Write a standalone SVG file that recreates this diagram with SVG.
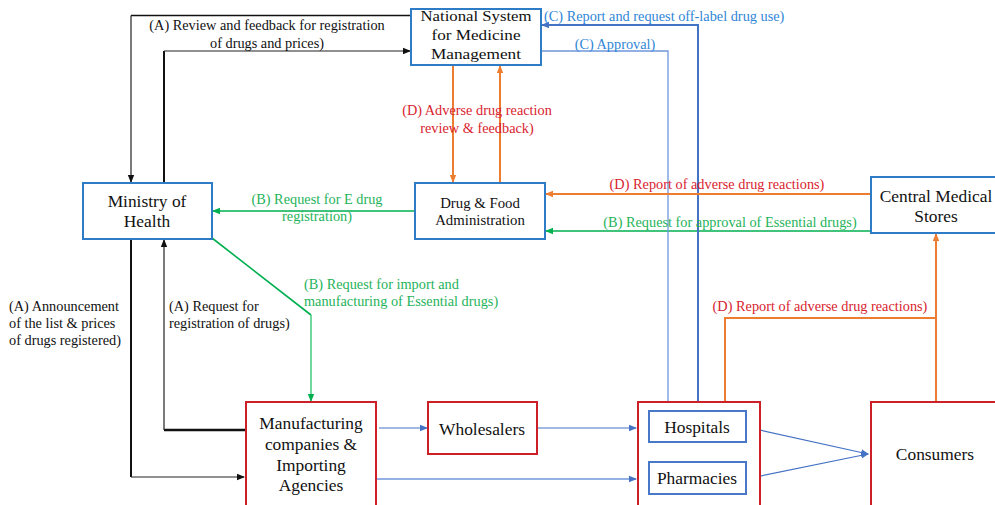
<svg xmlns="http://www.w3.org/2000/svg" width="995" height="505" viewBox="0 0 995 505">
  <style>
    .box-blue { fill: #ffffff; stroke: #2e7bc6; stroke-width: 2; }
    .box-red { fill: #ffffff; stroke: #cc1f27; stroke-width: 2; }
    .box-inner { fill: #ffffff; stroke: #4a78c8; stroke-width: 2; }
    text { font-family: 'Liberation Serif', 'Times New Roman', serif; }
    .node-text { font-size: 17.4px; fill: #111111; text-anchor: middle; }
    .tight { font-size: 15.5px; }
    .small-node { font-size: 14.8px; }
    .lbl { font-size: 14.3px; }
    .lbl-a { fill: #111111; }
    .lbl-b { fill: #1fb35a; }
    .lbl-c { fill: #2f86d6; }
    .lbl-d { fill: #d9232e; }
    .ln-a { fill: none; stroke: #222222; stroke-width: 1.2; }
    .ln-a2 { fill: none; stroke: #111111; stroke-width: 2; }
    .ln-b { fill: none; stroke: #00b050; stroke-width: 1.6; }
    .ln-b2 { fill: none; stroke: #4fcf85; stroke-width: 1.6; }
    .ln-c { fill: none; stroke: #4472c4; stroke-width: 1.2; }
    .ln-c1 { fill: none; stroke: #6f97dc; stroke-width: 1.3; }
    .ln-c2 { fill: none; stroke: #4472c4; stroke-width: 2; }
    .ln-d { fill: none; stroke: #ed7d31; stroke-width: 2; }
  </style>
  <defs>
    <marker id="ah-black" markerWidth="8" markerHeight="8" refX="7" refY="4" orient="auto" markerUnits="userSpaceOnUse">
      <path d="M0,0.8 L8,4 L0,7.2 Z" fill="#111111"/>
    </marker>
    <marker id="ah-green" markerWidth="8" markerHeight="8" refX="7" refY="4" orient="auto" markerUnits="userSpaceOnUse">
      <path d="M0,0.8 L8,4 L0,7.2 Z" fill="#00b050"/>
    </marker>
    <marker id="ah-blue" markerWidth="8" markerHeight="8" refX="7" refY="4" orient="auto" markerUnits="userSpaceOnUse">
      <path d="M0,0.8 L8,4 L0,7.2 Z" fill="#4472c4"/>
    </marker>
    <marker id="ah-orange" markerWidth="8" markerHeight="8" refX="7" refY="4" orient="auto" markerUnits="userSpaceOnUse">
      <path d="M0,0.8 L8,4 L0,7.2 Z" fill="#ed7d31"/>
    </marker>
  </defs>
  <rect width="995" height="505" fill="#ffffff"/>

  <!-- Connectors -->
  <g id="connectors">
    <!-- (A) flows -->
    <path class="ln-a2" d="M411,15.5 H131" style="stroke-width:1.6"/>
    <path class="ln-a" d="M131,15.5 V182" marker-end="url(#ah-black)"/>
    <path class="ln-a2" d="M164,183 V51"/>
    <path class="ln-a" d="M164,51 H410" marker-end="url(#ah-black)"/>
    <path class="ln-a2" d="M131,240 V477"/>
    <path class="ln-a" d="M131,477 H244" marker-end="url(#ah-black)"/>
    <path class="ln-a2" d="M245,430 H164" style="stroke-width:2.4"/>
    <path class="ln-a" d="M164,430 V240" marker-end="url(#ah-black)"/>

    <!-- (B) flows -->
    <path class="ln-b" d="M415,211 H213" marker-end="url(#ah-green)"/>
    <path class="ln-b" d="M871,231 H546" marker-end="url(#ah-green)"/>
    <path class="ln-b" d="M212,238 L311,315"/>
    <path class="ln-b2" d="M311,315 V401" marker-end="url(#ah-green)"/>

    <!-- (C) flows -->
    <path class="ln-c2" d="M698,402 V25 H542" marker-end="url(#ah-blue)"/>
    <path class="ln-c1" d="M541,51 H668 V410" marker-end="url(#ah-blue)"/>

    <!-- (D) flows -->
    <path class="ln-d" d="M453,66 V182" marker-end="url(#ah-orange)"/>
    <path class="ln-d" d="M500,183 V66" marker-end="url(#ah-orange)"/>
    <path class="ln-d" d="M871,194 H546" marker-end="url(#ah-orange)"/>
    <path class="ln-d" d="M725,402 V318 H936"/>
    <path class="ln-d" d="M936,402 V234" marker-end="url(#ah-orange)"/>

    <!-- supply chain -->
    <path class="ln-c" d="M379,428 H427" marker-end="url(#ah-blue)"/>
    <path class="ln-c" d="M537,428 H636" marker-end="url(#ah-blue)"/>
    <path class="ln-c1" d="M376,479 H636" marker-end="url(#ah-blue)"/>
    <path class="ln-c" d="M746,427 L868,454" marker-end="url(#ah-blue)"/>
    <path class="ln-c" d="M746,479 L868,454" marker-end="url(#ah-blue)"/>
  </g>

  <!-- Connector labels -->
  <g id="labels">
    <text class="lbl lbl-a" x="267" y="30" text-anchor="middle">(A) Review and feedback for registration</text>
    <text class="lbl lbl-a" x="267" y="48" text-anchor="middle">of drugs and prices)</text>
    <text class="lbl lbl-a" x="9" y="311">(A) Announcement</text>
    <text class="lbl lbl-a" x="9" y="328">of the list &amp; prices</text>
    <text class="lbl lbl-a" x="9" y="345">of drugs registered)</text>
    <text class="lbl lbl-a" x="169" y="311">(A) Request for</text>
    <text class="lbl lbl-a" x="169" y="328">registration of drugs)</text>

    <text class="lbl lbl-b" x="317" y="204" text-anchor="middle">(B) Request for E drug</text>
    <text class="lbl lbl-b" x="317" y="221" text-anchor="middle">registration)</text>
    <text class="lbl lbl-b" x="304" y="289">(B) Request for import and</text>
    <text class="lbl lbl-b" x="304" y="306">manufacturing of Essential drugs)</text>
    <text class="lbl lbl-b" x="730" y="227" text-anchor="middle">(B) Request for approval of Essential drugs)</text>

    <text class="lbl lbl-c" x="544" y="21">(C) Report and request off-label drug use)</text>
    <text class="lbl lbl-c" x="615" y="49" text-anchor="middle">(C) Approval)</text>

    <text class="lbl lbl-d" x="477" y="115" text-anchor="middle">(D) Adverse drug reaction</text>
    <text class="lbl lbl-d" x="477" y="133" text-anchor="middle">review &amp; feedback)</text>
    <text class="lbl lbl-d" x="717" y="189" text-anchor="middle">(D) Report of adverse drug reactions)</text>
    <text class="lbl lbl-d" x="820" y="311" text-anchor="middle">(D) Report of adverse drug reactions)</text>
  </g>

  <!-- Nodes -->
  <g id="nsmm">
    <rect class="box-blue" x="411" y="9" width="130" height="56"/>
    <text class="node-text tight" x="476" y="21" textLength="111" lengthAdjust="spacingAndGlyphs">National System</text>
    <text class="node-text tight" x="476" y="40" textLength="89" lengthAdjust="spacingAndGlyphs">for Medicine</text>
    <text class="node-text tight" x="476" y="59" textLength="90" lengthAdjust="spacingAndGlyphs">Management</text>
  </g>
  <g id="moh">
    <rect class="box-blue" x="83" y="183" width="129" height="56"/>
    <text class="node-text" x="147" y="207">Ministry of</text>
    <text class="node-text" x="147" y="227">Health</text>
  </g>
  <g id="dfa">
    <rect class="box-blue" x="415" y="183" width="130" height="56"/>
    <text class="node-text small-node" x="480" y="208">Drug &amp; Food</text>
    <text class="node-text small-node" x="480" y="225">Administration</text>
  </g>
  <g id="cms">
    <rect class="box-blue" x="871" y="177" width="130" height="56"/>
    <text class="node-text" x="936" y="202">Central Medical</text>
    <text class="node-text" x="936" y="222">Stores</text>
  </g>
  <g id="manufacturers">
    <rect class="box-red" x="246" y="402" width="130" height="106"/>
    <text class="node-text" x="311" y="429">Manufacturing</text>
    <text class="node-text" x="311" y="450">companies &amp;</text>
    <text class="node-text" x="311" y="471">Importing</text>
    <text class="node-text" x="311" y="491">Agencies</text>
  </g>
  <g id="wholesalers">
    <rect class="box-red" x="428" y="402" width="109" height="52"/>
    <text class="node-text" x="482" y="435">Wholesalers</text>
  </g>
  <g id="outlets">
    <rect class="box-red" x="638" y="402" width="122" height="106"/>
  </g>
  <g id="hospitals">
    <rect class="box-inner" x="649" y="411" width="97" height="31"/>
    <text class="node-text" x="697" y="433">Hospitals</text>
  </g>
  <g id="pharmacies">
    <rect class="box-inner" x="649" y="462" width="97" height="32"/>
    <text class="node-text" x="697" y="484">Pharmacies</text>
  </g>
  <g id="consumers">
    <rect class="box-red" x="871" y="402" width="130" height="106"/>
    <text class="node-text" x="935" y="460">Consumers</text>
  </g>
</svg>
